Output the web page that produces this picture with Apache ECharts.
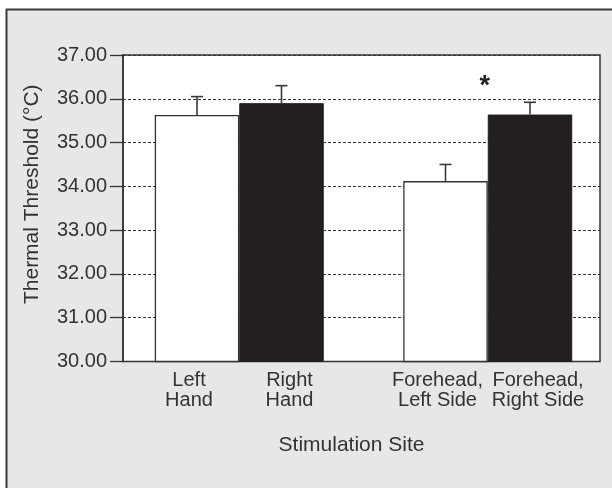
<!DOCTYPE html>
<html>
<head>
<meta charset="utf-8">
<script src="https://cdn.jsdelivr.net/npm/echarts@6/dist/echarts.min.js"></script>
<style>html,body{margin:0;padding:0;background:#fff;}#c{width:612px;height:488px;}</style>
</head>
<body>
<div id="c"></div>
<script>
const categories = ['Hand', 'Forehead'];
const leftSideLabels = ['Left\nHand', 'Forehead,\nLeft Side'];
const rightSideLabels = ['Right\nHand', 'Forehead,\nRight Side'];
const leftMeans = [35.63, 34.12];
const rightMeans = [35.90, 35.64];
const leftUpper = [36.05, 34.50];
const rightUpper = [36.30, 35.92];
const significance = ['', '*'];
const yMin = 30, yMax = 37, yStep = 1;

const FONT = '"Liberation Sans", Arial, Helvetica, sans-serif';
const INK = '#333333';
const GAP = 0.32;

const errData = [];
categories.forEach((c, i) => {
  errData.push([i, 0, leftMeans[i], leftUpper[i], '']);
  errData.push([i, 1, rightMeans[i], rightUpper[i], significance[i]]);
});

const chart = echarts.init(document.getElementById('c'), null, {renderer: 'canvas'});
chart.setOption({
  animation: false,
  backgroundColor: '#ffffff',
  graphic: [{
    type: 'rect', z: -100, silent: true,
    shape: {x: 6.5, y: 9.5, width: 700, height: 600},
    style: {fill: '#e6e7e8', stroke: '#3a3a3a', lineWidth: 2}
  }],
  grid: [
    {left: 123, top: 55, width: 477, height: 306.5, show: true, backgroundColor: '#ffffff', borderColor: INK, borderWidth: 1.5},
    {left: 115, top: 55, width: 500, height: 306.5}
  ],
  xAxis: [
    {gridIndex: 0, type: 'category', data: categories,
     axisLine: {show: false}, axisTick: {show: false}, axisLabel: {show: false},
     name: 'Stimulation Site', nameLocation: 'middle', nameGap: 73,
     nameTextStyle: {fontFamily: FONT, fontSize: 21, color: '#333333', lineHeight: 21, padding: [0, 20, 0, 0]}},
    {gridIndex: 1, type: 'category', data: categories,
     axisLine: {show: false}, axisTick: {show: false}, axisLabel: {show: false}}
  ],
  yAxis: [
    {gridIndex: 0, type: 'value', min: yMin, max: yMax, interval: yStep,
     axisLine: {show: true, lineStyle: {color: INK, width: 1.5}},
     axisTick: {show: true, length: 13, lineStyle: {color: INK, width: 1.3}},
     axisLabel: {fontFamily: FONT, fontSize: 20, color: '#333333', margin: 16,
                 formatter: v => v.toFixed(2)},
     splitLine: {show: true, lineStyle: {color: INK, width: 1, type: [3, 2]}},
     name: 'Thermal Threshold (°C)', nameLocation: 'middle', nameGap: 80,
     nameTextStyle: {fontFamily: FONT, fontSize: 21, color: '#333333', lineHeight: 21, padding: [0, 0, 0, 28]}},
    {gridIndex: 1, type: 'value', min: yMin, max: yMax, interval: yStep, show: false,
     splitLine: {show: false}}
  ],
  series: [
    {type: 'bar', xAxisIndex: 1, yAxisIndex: 1, data: leftMeans,
     barGap: '0%', barCategoryGap: (GAP * 100) + '%',
     itemStyle: {color: '#ffffff', borderColor: INK, borderWidth: 1.3},
     label: {show: true, position: 'bottom', distance: 8, offset: [-8, 0],
             formatter: p => leftSideLabels[p.dataIndex],
             fontFamily: FONT, fontSize: 20, lineHeight: 20, color: '#333333', align: 'center'}},
    {type: 'bar', xAxisIndex: 1, yAxisIndex: 1, data: rightMeans,
     barGap: '0%', barCategoryGap: (GAP * 100) + '%',
     itemStyle: {color: '#231f20', borderColor: '#231f20', borderWidth: 1},
     label: {show: true, position: 'bottom', distance: 8, offset: [8, 0],
             formatter: p => rightSideLabels[p.dataIndex],
             fontFamily: FONT, fontSize: 20, lineHeight: 20, color: '#333333', align: 'center'}},
    {type: 'custom', xAxisIndex: 1, yAxisIndex: 1, z: 5, data: errData,
     renderItem: function (params, api) {
       const cat = api.value(0), side = api.value(1);
       const mean = api.value(2), upper = api.value(3);
       const catW = api.size([1, 0])[0];
       const barW = catW * (1 - GAP) / 2;
       const base = api.coord([cat, mean]);
       const top = api.coord([cat, upper]);
       const x = base[0] + (side === 0 ? -barW / 2 : barW / 2);
       const style = {stroke: '#3a3a3a', lineWidth: 1.6};
       const children = [
         {type: 'line', shape: {x1: x, y1: base[1], x2: x, y2: top[1]}, style: style},
         {type: 'line', shape: {x1: x - 6, y1: top[1], x2: x + 6, y2: top[1]}, style: style}
       ];
       const sig = errData[params.dataIndex][4];
       if (sig) {
         const maxU = Math.max(leftUpper[cat], rightUpper[cat]);
         const p = api.coord([cat, maxU + 0.35]);
         children.push({type: 'text', x: p[0] - 3, y: p[1],
           style: {text: sig, fontFamily: FONT, fontSize: 27, fontWeight: 'bold', fill: '#222',
                   align: 'center', verticalAlign: 'middle'}});
       }
       return {type: 'group', children: children};
     }}
  ]
});
</script>
</body>
</html>
